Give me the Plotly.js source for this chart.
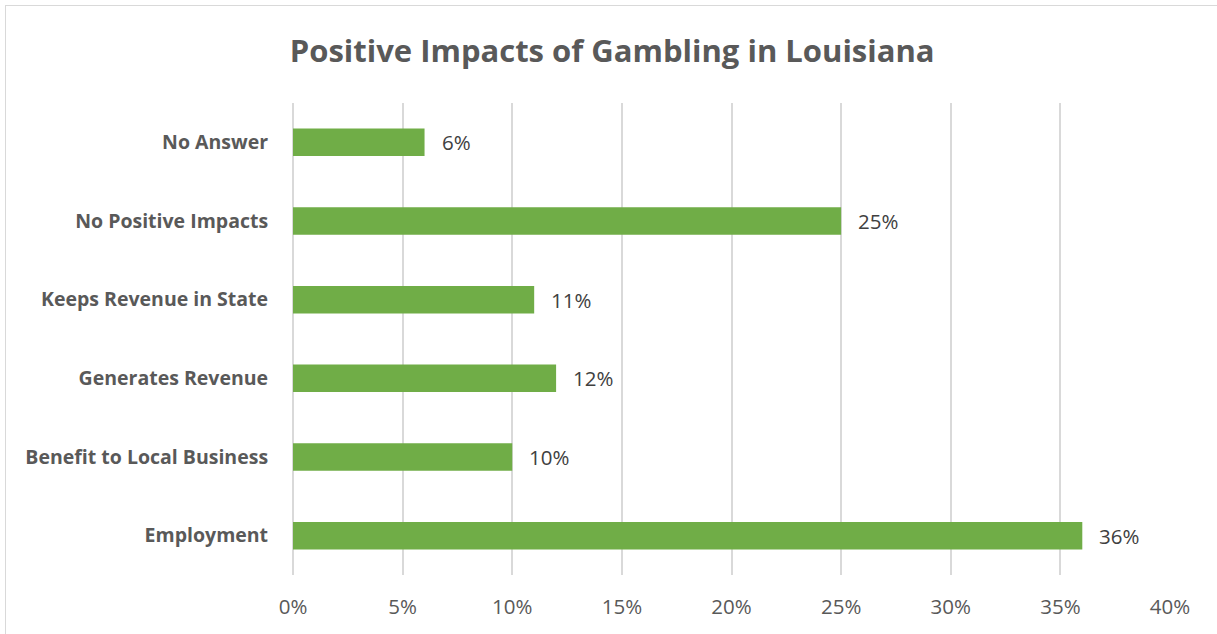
<!DOCTYPE html>
<html>
<head>
<meta charset="utf-8">
<script src="https://cdn.plot.ly/plotly-3.0.1.min.js"></script>
<style>
html,body{margin:0;padding:0;background:#fff;overflow:hidden;}
#frame{position:absolute;left:5px;top:5px;width:1230px;height:650px;border:1px solid #d9d9d9;box-sizing:border-box;}
#chart{position:absolute;left:0;top:0;width:1217px;height:634px;}
</style>
</head>
<body>
<div id="frame"></div>
<div id="chart"></div>
<script>
const categories = ["Employment","Benefit to Local Business","Generates Revenue","Keeps Revenue in State","No Positive Impacts","No Answer"];
const values = [0.36,0.10,0.12,0.11,0.25,0.06];
const tickValues = [0,0.05,0.10,0.15,0.20,0.25,0.30,0.35,0.40];
const tickLabels = ["0%","5%","10%","15%","20%","25%","30%","35%","40%"];

const FONT = "'Open Sans', sans-serif";

const trace = {
  type: "bar",
  orientation: "h",
  x: values,
  y: categories,
  marker: {color: "#70AD47"},
  hoverinfo: "none"
};

const annotations = values.map((v,i)=>({
  x: v, y: categories[i], xref: "x", yref: "y",
  text: Math.round(v*100) + "%",
  showarrow: false, xanchor: "left", xshift: 15,
  font: {family: FONT, size: 20.5, color: "#404040"}
}));

const layout = {
  width: 1217, height: 634,
  margin: {l: 292.5, r: 47, t: 103, b: 59},
  paper_bgcolor: "rgba(0,0,0,0)",
  plot_bgcolor: "rgba(0,0,0,0)",
  bargap: 0.65,
  showlegend: false,
  title: {
    text: "<b>Positive Impacts of Gambling in Louisiana</b>",
    font: {family: FONT, size: 31, color: "#595959"},
    x: 0.503, xanchor: "center", y: 0.92, yanchor: "middle"
  },
  xaxis: {
    range: [0, 0.40],
    tickvals: tickValues,
    ticktext: tickLabels,
    showgrid: true, gridcolor: "#d9d9d9", gridwidth: 2,
    zeroline: true, zerolinecolor: "#d9d9d9", zerolinewidth: 2,
    showline: false,
    ticks: "outside", ticklen: 13, tickcolor: "rgba(0,0,0,0)",
    tickfont: {family: FONT, size: 20.5, color: "#595959"},
    fixedrange: true
  },
  yaxis: {
    categoryorder: "array", categoryarray: categories,
    showgrid: false, zeroline: false, showline: false,
    ticks: "outside", ticklen: 20, tickcolor: "rgba(0,0,0,0)",
    tickfont: {family: FONT, size: 19.5, color: "#595959", weight: "bold"},
    fixedrange: true
  },
  annotations: annotations
};

Plotly.newPlot("chart", [trace], layout, {displayModeBar: false, staticPlot: true});
</script>
</body>
</html>
